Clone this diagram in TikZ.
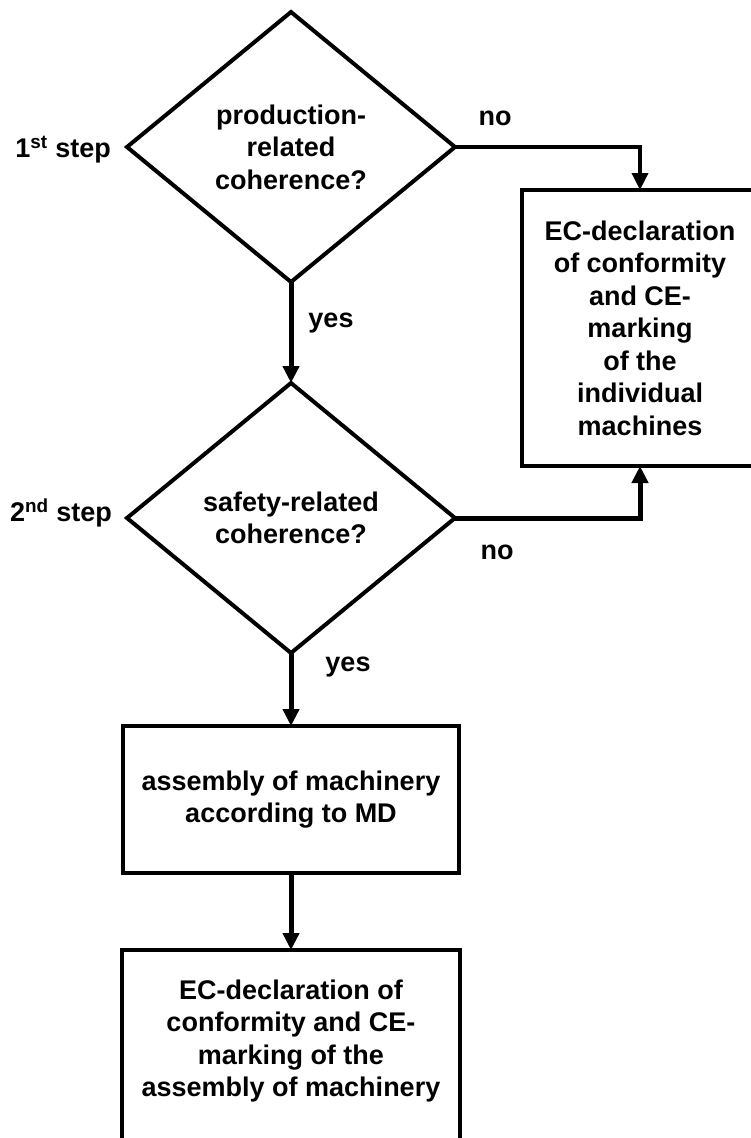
\documentclass[tikz,border=0pt]{standalone}
\usepackage{fontspec}
\setmainfont{Liberation Sans}
\usepackage{tikz}
\usetikzlibrary{shapes, arrows.meta}
\usetikzlibrary{positioning}
\newcommand{\flowfont}{\bfseries\fontsize{27}{32.5}\selectfont}
\tikzstyle{decision} = [diamond, minimum width = 328, minimum height = 270,
  inner sep = 0, outer sep = 0, draw = black, line width = 4,
  align = center, font = \flowfont]
\tikzstyle{block} = [
  rectangle, inner sep = 0, outer sep = 0,
  draw = black, line width = 4,
  align = center, font = \flowfont
]
\tikzstyle{tag} = [inner sep = 0, font = \flowfont]
\tikzstyle{flow} = [line width = 5, -{Triangle[length = 17pt, width = 16pt]}]

\begin{document}
\begin{tikzpicture}[x = 1pt, y = -1pt]
      \useasboundingbox (0, 0) rectangle (751, 1138);
      \clip (0, 0) rectangle (751, 1138);
      \node [decision] (coherence-prod) at (291, 147)
        {production-\\related\\coherence?};
      \node [decision] (coherence-safe) at (291, 518)
        {safety-related\\coherence?};
      \node [block, minimum width = 236, minimum height = 276] (ec-single)
        at (640, 328) {EC-declaration\\of conformity\\and CE-\\marking\\of
        the\\individual\\machines};
      \node [block, minimum width = 336, minimum height = 147] (assembly)
        at (291, 799.5) {assembly of machinery\\according to MD};
      \node [block, minimum width = 338, minimum height = 200,
        text depth = 24pt, anchor = north] (ec-assembly) at (291, 950)
        {EC-declaration of\\conformity and CE-\\marking of the\\assembly
        of machinery};

      \node [tag, left = 16pt of coherence-prod.west, yshift = -3pt]
        (step-1) {1\textsuperscript{st} step};
      \node [tag, left = 15pt of coherence-safe.west, yshift = 5pt]
        (step-2) {2\textsuperscript{nd} step};
      \node [tag] (no-1) at (495, 118) {no};
      \node [tag] (no-2) at (497, 552) {no};
      \node [tag] (yes-1) at (331, 323) {yes};
      \node [tag] (yes-2) at (348, 667) {yes};

      \draw [flow, line width = 3.5] (coherence-prod.east) -| (ec-single.north);
      \draw [flow] (coherence-safe.east) -| (ec-single.south);
      \draw [flow] (coherence-prod.south) -- (coherence-safe.north);
      \draw [flow] (coherence-safe.south) -- (assembly.north);
      \draw [flow] (assembly.south) -- (ec-assembly.north);
    \end{tikzpicture}
\end{document}
